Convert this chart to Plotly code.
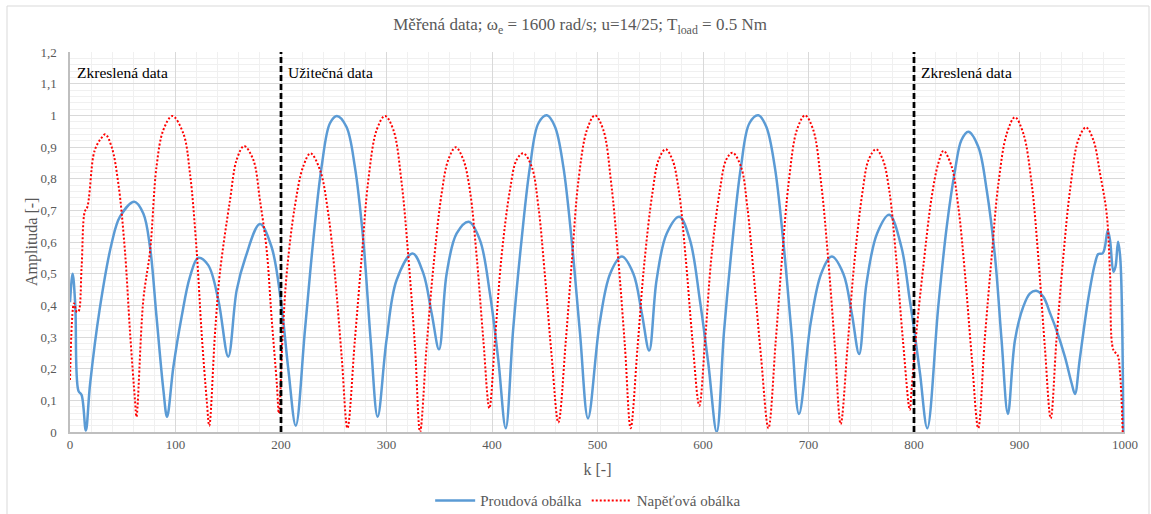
import plotly.graph_objects as go

# ---- data ----
blue_k = [0, 2.5, 5, 8, 11, 15, 19, 28, 39.5, 47.4, 61, 69.5, 75.8, 82, 88.5, 92,
          98, 105.8, 113.7, 121.6, 131, 140.6, 150,
          158, 166, 180, 191, 200, 207, 214,
          222.7, 230.6, 238.5, 246.4, 253, 262, 270, 278, 285, 291.6,
          300, 309.6, 324.8, 335, 342.8, 349.8,
          357, 366.5, 378, 388.6, 398, 406, 413,
          420, 428, 436, 444, 452, 459.7, 467.6, 475.5, 483.4, 491,
          502, 512, 523, 534, 542, 549,
          556, 565.6, 577.6, 587.7, 597, 605, 613,
          620, 628, 636, 644, 652.4, 660, 668, 676, 684, 691,
          702, 712, 722, 733, 741, 748,
          755, 765, 776.6, 788, 796, 800.3, 805.7, 812.6,
          823, 831, 838.9, 845, 851.5, 861, 868.9, 876.8, 883, 889,
          895.7, 903.6, 910, 916, 922.6, 929, 935, 943, 949.4, 952.6,
          957, 965, 971.6, 974.7, 978.8, 981, 983.6, 985.8, 989, 991, 993.4, 995.5, 998.4]
blue_v = [0.41, 0.50, 0.40, 0.13, 0.117, 0.005, 0.15, 0.385, 0.596, 0.68, 0.727, 0.69, 0.585, 0.364, 0.133, 0.048,
          0.206, 0.364, 0.49, 0.55, 0.527, 0.417, 0.238,
          0.448, 0.548, 0.657, 0.585, 0.411, 0.196, 0.02,
          0.322, 0.606, 0.838, 0.975, 0.998, 0.964, 0.838, 0.606, 0.29, 0.048,
          0.29, 0.48, 0.564, 0.50, 0.375, 0.261,
          0.50, 0.627, 0.664, 0.606, 0.438, 0.227, 0.012,
          0.322, 0.606, 0.838, 0.975, 1.0, 0.964, 0.838, 0.606, 0.312, 0.043,
          0.343, 0.50, 0.554, 0.50, 0.375, 0.257,
          0.48, 0.627, 0.68, 0.606, 0.417, 0.217, 0.0,
          0.32, 0.606, 0.838, 0.975, 1.0, 0.964, 0.838, 0.606, 0.31, 0.057,
          0.343, 0.50, 0.554, 0.50, 0.375, 0.246,
          0.47, 0.627, 0.686, 0.585, 0.417, 0.32, 0.185, 0.012,
          0.396, 0.648, 0.827, 0.922, 0.948, 0.90, 0.764, 0.553, 0.29, 0.057,
          0.29, 0.396, 0.438, 0.446, 0.427, 0.375, 0.322, 0.238, 0.154, 0.12,
          0.227, 0.417, 0.533, 0.562, 0.564, 0.585, 0.636, 0.606, 0.506, 0.522, 0.601, 0.55, 0.0]

red_k = [0, 3.8, 6.3, 8, 11, 14, 16.4, 22, 25, 29, 33.5, 39.5, 45.8, 52, 57, 61.6, 63,
         69.5, 76, 82, 88.5, 97, 107.4, 113.7, 120, 124.8, 129.6, 132,
         137.4, 142, 151.7, 158, 165, 173.7, 180, 186.4, 191, 196, 198,
         201.5, 205.4, 213, 221, 228, 237, 244.8, 251, 257.5, 263,
         270, 276.5, 282.8, 290.7, 298.6, 306.5, 314.4, 320.7, 327, 331.8,
         338, 344.4, 352.3, 358.6, 365.6, 372.8, 379, 385.5, 391.8, 397.5,
         402.8, 409, 417, 423.4, 429.7, 437.6, 444, 450, 456.6, 462.9,
         470, 476, 482, 490, 497.6, 505.5, 513, 519.5, 526, 531.4,
         538, 544, 552, 558, 564.6, 571, 577, 583.5, 590, 596.5,
         602, 608, 616, 622, 628, 636, 642, 648, 655, 662,
         669, 675, 681.5, 689, 696.7, 704.5, 712, 718.5, 725, 730.5,
         737, 743, 751, 757, 764, 770.5, 776.5, 783, 789.5, 796,
         797.8, 802.5, 808.8, 816.8, 823, 828, 835.7, 842, 848.3, 854.7, 860.9,
         867, 873.6, 880, 888, 895.7, 903.6, 911.5, 917.8, 924, 929.6,
         935, 941.5, 947.9, 955.7, 963, 970, 976.3, 982.6, 985.8, 989, 993, 995.3, 997.8]
red_v = [0.164, 0.406, 0.38, 0.38, 0.52, 0.696, 0.71, 0.87, 0.903, 0.925, 0.94, 0.90, 0.785, 0.575, 0.31, 0.10, 0.048,
         0.417, 0.575, 0.838, 0.954, 0.998, 0.943, 0.817, 0.575, 0.31, 0.10, 0.02,
         0.31, 0.50, 0.733, 0.86, 0.903, 0.86, 0.733, 0.575, 0.364, 0.154, 0.059,
         0.30, 0.50, 0.71, 0.838, 0.88, 0.827, 0.69, 0.50, 0.238, 0.012,
         0.29, 0.553, 0.796, 0.954, 0.998, 0.954, 0.785, 0.553, 0.27, 0.0,
         0.27, 0.52, 0.754, 0.86, 0.899, 0.86, 0.764, 0.553, 0.29, 0.075,
         0.29, 0.553, 0.764, 0.86, 0.88, 0.838, 0.711, 0.50, 0.238, 0.03,
         0.29, 0.553, 0.796, 0.954, 1.0, 0.954, 0.785, 0.553, 0.27, 0.012,
         0.27, 0.52, 0.754, 0.86, 0.893, 0.86, 0.764, 0.553, 0.29, 0.083,
         0.29, 0.553, 0.764, 0.86, 0.882, 0.838, 0.711, 0.50, 0.238, 0.012,
         0.29, 0.553, 0.796, 0.954, 1.0, 0.954, 0.785, 0.553, 0.27, 0.025,
         0.27, 0.52, 0.754, 0.86, 0.893, 0.86, 0.764, 0.553, 0.29, 0.07,
         0.139, 0.322, 0.522, 0.743, 0.848, 0.888, 0.838, 0.711, 0.50, 0.238, 0.012,
         0.29, 0.553, 0.785, 0.943, 0.994, 0.943, 0.785, 0.553, 0.27, 0.043,
         0.29, 0.553, 0.764, 0.922, 0.962, 0.922, 0.817, 0.69, 0.50, 0.259, 0.243, 0.185, 0.0]

boundaries = [200, 800]
region_labels = ["Zkreslená data", "Užitečná data", "Zkreslená data"]
region_label_k = [5, 205, 805]

FONT = "'Liberation Serif', 'Times New Roman', 'DejaVu Serif', serif"
GREY = "#595959"

fig = go.Figure()
fig.add_trace(go.Scatter(x=blue_k, y=blue_v, mode="lines", name="Proudová obálka",
                         line=dict(color="#5B9BD5", width=2.5, shape="spline", smoothing=1.0)))
fig.add_trace(go.Scatter(x=red_k, y=red_v, mode="lines", name="Napěťová obálka",
                         line=dict(color="#FF0000", width=2, dash="2px,2px", shape="spline", smoothing=1.0)))

for b in boundaries:
    fig.add_shape(type="line", xref="x", yref="y", x0=b, x1=b, y0=0, y1=1.2,
                  line=dict(color="black", width=2.75, dash="6px,3px"), layer="above")

for lbl, k in zip(region_labels, region_label_k):
    fig.add_annotation(x=k, y=1.135, xref="x", yref="y", text=lbl, showarrow=False,
                       xanchor="left", yanchor="middle",
                       font=dict(family=FONT, size=15.5, color="black"))

# y-axis title placed as rotated text next to the tick labels
fig.add_annotation(x=(32 - 70) / 1055, y=0.5, xref="paper", yref="paper", text="Amplituda [-]",
                   showarrow=False, textangle=-90, xanchor="center", yanchor="middle",
                   font=dict(family=FONT, size=16, color=GREY))

# outer chart border
fig.add_shape(type="rect", xref="paper", yref="paper",
              x0=(7 - 70) / 1055, x1=(1149 - 70) / 1055, y0=(432 - 540) / 380, y1=(432 - 6) / 380,
              line=dict(color="#D9D9D9", width=1), layer="below")

fig.update_layout(
    width=1151, height=514,
    margin=dict(l=70, r=26, t=52, b=82, autoexpand=False),
    paper_bgcolor="white", plot_bgcolor="white",
    separators=", ",
    title=dict(text="Měřená data; ω<sub>e</sub> = 1600 rad/s; u=14/25; T<sub>load</sub> = 0.5 Nm",
               x=0.504, xref="container", xanchor="center", y=0.953, yref="container", yanchor="middle",
               font=dict(family=FONT, size=17, color=GREY)),
    font=dict(family=FONT, color=GREY),
    showlegend=True,
    legend=dict(orientation="h", x=0.511, xref="container", xanchor="center",
                y=0.026, yref="container", yanchor="middle",
                font=dict(family=FONT, size=15, color=GREY), itemwidth=40),
    xaxis=dict(range=[0, 1000], dtick=100, tick0=0, showgrid=True, gridcolor="#D9D9D9", gridwidth=1,
               minor=dict(dtick=20, showgrid=True, gridcolor="#F0F0F0", gridwidth=1),
               showline=True, linecolor="#BFBFBF", linewidth=1.5, zeroline=False,
               ticks="", tickfont=dict(family=FONT, size=13, color=GREY),
               title=dict(text="k [-]", font=dict(family=FONT, size=16, color=GREY), standoff=12)),
    yaxis=dict(range=[0, 1.2], dtick=0.1, tick0=0, showgrid=True, gridcolor="#D9D9D9", gridwidth=1,
               minor=dict(dtick=0.02, showgrid=True, gridcolor="#F0F0F0", gridwidth=1),
               showline=True, linecolor="#BFBFBF", linewidth=1.5, zeroline=False,
               ticks="", ticklabelstandoff=9, tickfont=dict(family=FONT, size=13, color=GREY)),
)

fig.write_html("out.html")
